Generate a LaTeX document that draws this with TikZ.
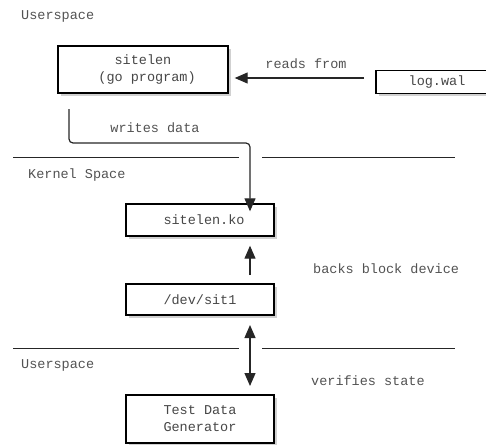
\documentclass[tikz,border=0pt]{standalone}
\usepackage{fontspec}
\setmainfont{Liberation Mono}
\usetikzlibrary{arrows.meta,shadows}
\tikzset{
  box/.style={draw=black, line width=1.4pt, fill=white, inner sep=0pt, align=center,
    font=\fontsize{13.5}{17}\selectfont, text=black!72,
    drop shadow={opacity=0.3, shadow xshift=2.5pt, shadow yshift=-2.5pt, fill=black!60}},
  lbl/.style={font=\fontsize{13.5}{17}\selectfont, text=black!68, inner sep=0pt},
  conn/.style={line width=1.2pt, draw=black!85},
  tip/.style={-{Triangle[length=13pt,width=11pt]}},
  sep/.style={line width=0.9pt, draw=black!85}
}
\begin{document}
\begin{tikzpicture}[x=1pt,y=-1pt]
\useasboundingbox (0,0) rectangle (486,444);
% boxes
\node[box, minimum width=170pt, minimum height=47pt] (prog) at (143,69.5) {sitelen\\~(go program)};
\node[box, minimum width=122pt, minimum height=23pt] (wal) at (437,82) {log.wal};
\node[box, minimum width=148pt, minimum height=32pt] (ko) at (200,220) {~sitelen.ko};
\node[box, minimum width=148pt, minimum height=31pt] (dev) at (200,299.5) {/dev/sit1};
\node[box, minimum width=148pt, minimum height=48pt] (gen) at (200,419) {Test Data\\Generator};
% region labels
\node[lbl, anchor=west] (u1) at (21,16) {Userspace};
\node[lbl, anchor=west] (ks) at (28,175) {Kernel Space};
\node[lbl, anchor=west] (u2) at (21,365) {Userspace};
% separators
\coordinate (s1a) at (13,157); \coordinate (s1b) at (239,157);
\coordinate (s1c) at (262,157); \coordinate (s1d) at (455,157);
\coordinate (s2a) at (13,348); \coordinate (s2b) at (239,348);
\coordinate (s2c) at (262,348); \coordinate (s2d) at (455,348);
\draw[sep] (s1a) -- (s1b); \draw[sep] (s1c) -- (s1d);
\draw[sep] (s2a) -- (s2b); \draw[sep] (s2c) -- (s2d);
% reads from
\coordinate (rf) at (364,78);
\draw[conn, tip] (rf) -- ([xshift=6pt]prog.east |- rf);
\node[lbl] (rfl) at (306,64) {reads from};
% writes data
\coordinate (wd0) at (69,109);
\coordinate (wd1) at (69,143);
\coordinate (wd2) at (250,143);
\draw[conn, tip, rounded corners=4pt] (wd0) -- (wd1) -- (wd2) -- ([yshift=-8pt]ko.north -| wd2);
\node[lbl] (wdl) at (155,128) {writes data};
% backs block device
\coordinate (bb) at (250,275);
\draw[conn, tip] (bb) -- ([yshift=-9pt]ko.south -| bb);
\node[lbl, anchor=west] (bbl) at (313,269) {backs block device};
% verifies state
\coordinate (vs1) at (250,325);
\coordinate (vs2) at (250,386);
\draw[conn, {Triangle[length=13pt,width=11pt]}-{Triangle[length=13pt,width=11pt]}] (vs1) -- (vs2);
\node[lbl, anchor=west] (vsl) at (311,381) {verifies state};
\end{tikzpicture}
\end{document}
